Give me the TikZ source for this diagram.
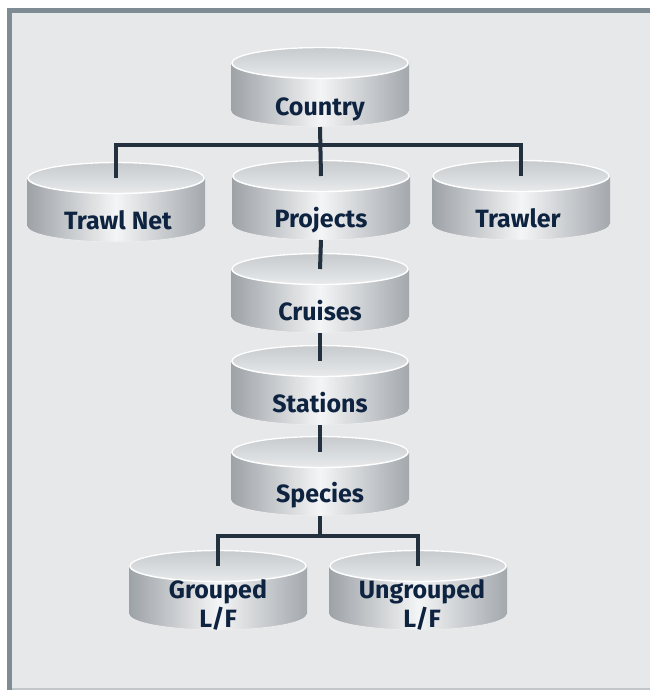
\documentclass[tikz,border=0pt]{standalone}
\usepackage{fontspec}
\newfontfamily\lblfont{Fira Sans}
\definecolor{bgc}{HTML}{E6E8EA}
\definecolor{framec}{HTML}{7F8C94}
\definecolor{botc}{HTML}{C2C6C9}
\definecolor{txtc}{HTML}{0E2340}
\definecolor{linec}{HTML}{22313D}
\definecolor{bodyL}{HTML}{9DA2A7}
\definecolor{bodyM}{HTML}{F4F5F6}
\definecolor{bodyR}{HTML}{A3A8AD}
\definecolor{topA}{HTML}{E8EAEC}
\definecolor{topB}{HTML}{C6CACD}
\tikzset{
  disklabel/.style={text=txtc, font=\lblfont\bfseries\fontsize{25}{29}\selectfont, align=center, anchor=base, inner sep=0pt},
  connector/.style={draw=linec, line width=4pt, line join=miter},
}
\newcommand\drawdisk[4]{% name, cx, top, label
  \pgfmathsetmacro\dyt{#3+16}
  \pgfmathsetmacro\dyb{#3+64}
  \shade[left color=bodyL, right color=bodyR, middle color=bodyM]
    (#2-89,\dyt) -- (#2-89,\dyb) arc[start angle=180,end angle=360,x radius=89pt,y radius=16pt] -- (#2+89,\dyt) -- cycle;
  \draw[white!85!gray, line width=0.8pt] (#2-89,\dyb) arc[start angle=180,end angle=360,x radius=89pt,y radius=16pt];
  \shade[top color=topB, bottom color=topA] (#2,\dyt) ellipse[x radius=89pt,y radius=16pt];
  \draw[white, line width=1.4pt] (#2,\dyt) ellipse[x radius=88pt,y radius=15.5pt];
  \coordinate (#1-top) at (#2,\dyt);
  \coordinate (#1-bot) at (#2,#3+80);
}
\begin{document}
\begin{tikzpicture}[x=1pt,y=-1pt]
\useasboundingbox (0,0) rectangle (650,690);
\fill[white] (0,0) rectangle (650,690);
\fill[bgc] (7,8) rectangle (650,688);
\fill[botc] (7,688) rectangle (650,690);
\fill[framec] (7,8) rectangle (650,13);
\fill[framec] (7,8) rectangle (12,690);

\drawdisk{country}{320}{47}{Country}
\drawdisk{trawlnet}{116}{162}{Trawl Net}
\drawdisk{projects}{321}{160}{Projects}
\drawdisk{trawler}{521}{160}{Trawler}
\drawdisk{cruises}{320}{253}{Cruises}
\drawdisk{stations}{320}{345}{Stations}
\drawdisk{species}{320}{436}{Species}
\drawdisk{grouped}{218}{550}{Grouped\\L/F}
\drawdisk{ungrouped}{418}{550}{Ungrouped\\L/F}

\node[disklabel] (countryL) at (320,115) {Country};
\node[disklabel] (trawlnetL) at (118,229) {Trawl Net};
\node[disklabel] (projectsL) at (321,227) {Projects};
\node[disklabel] (trawlerL) at (518,227) {Trawler};
\node[disklabel] (cruisesL) at (320,320) {Cruises};
\node[disklabel] (stationsL) at (320,412) {Stations};
\node[disklabel] (speciesL) at (320,502) {Species};
\node[disklabel] (groupedL) at (218,627) {Grouped\\L/F};
\node[disklabel] (ungroupedL) at (422,627) {Ungrouped\\L/F};

\coordinate (bus1) at (320,145);
\coordinate (bus2) at (320,536);
\draw[connector] (country-bot) -- (projects-top);
\draw[connector] (trawlnet-top) -- (trawlnet-top |- bus1) -- (trawler-top |- bus1) -- (trawler-top);
\draw[connector] (projects-bot) -- (cruises-top);
\draw[connector] (cruises-bot) -- (stations-top);
\draw[connector] (stations-bot) -- (species-top);
\draw[connector] (species-bot) -- (bus2);
\draw[connector] (grouped-top) -- (grouped-top |- bus2) -- (ungrouped-top |- bus2) -- (ungrouped-top);
\end{tikzpicture}
\end{document}
